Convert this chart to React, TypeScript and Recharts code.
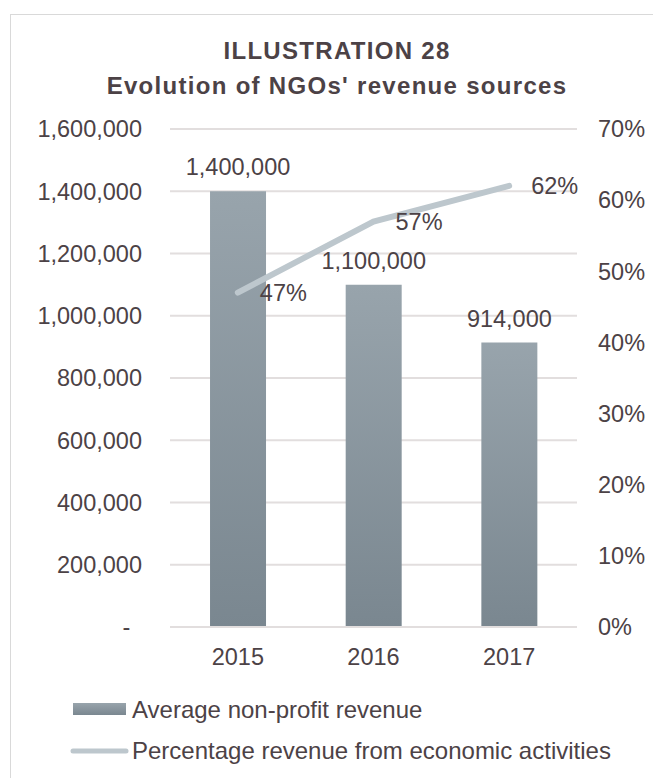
import { ComposedChart, Bar, Line, XAxis, YAxis, CartesianGrid, LabelList } from "recharts";

const years = ["2015", "2016", "2017"];
const avgRevenue = [1400000, 1100000, 914000];
const pctEconomic = [47, 57, 62];
const leftTicks = [0, 200000, 400000, 600000, 800000, 1000000, 1200000, 1400000, 1600000];
const rightTicks = [0, 10, 20, 30, 40, 50, 60, 70];

const data = years.map((y, i) => ({ year: y, revenue: avgRevenue[i], pct: pctEconomic[i] }));

const TEXT = "#4c4246";
const FONT = "'Liberation Sans', Arial, sans-serif";
const FS = 23.5;

// excel accounting style: zero shows as a dash
const fmtNum = (v: number) => (v === 0 ? "-\u2002" : v.toLocaleString("en-US"));

function LegendBox() {
  return (
    <div style={{ position: "absolute", left: 70, top: 689, fontFamily: FONT, fontSize: 24, color: TEXT, lineHeight: "41px" }}>
      <div style={{ display: "flex", alignItems: "center" }}>
        <svg width={62} height={20}>
          <defs>
            <linearGradient id="lgBar" x1="0" y1="0" x2="0" y2="1">
              <stop offset="0%" stopColor="#98a4ac" />
              <stop offset="100%" stopColor="#7a8790" />
            </linearGradient>
          </defs>
          <rect x={3} y={3} width={53} height={12} fill="url(#lgBar)" />
        </svg>
        <span>Average non-profit revenue</span>
      </div>
      <div style={{ display: "flex", alignItems: "center" }}>
        <svg width={62} height={20}>
          <line x1={3} y1={10} x2={56} y2={10} stroke="#bdc7cd" strokeWidth={5} strokeLinecap="round" />
        </svg>
        <span>Percentage revenue from economic activities</span>
      </div>
    </div>
  );
}

export default function App() {
  return (
    <div style={{ position: "fixed", left: 0, top: 0, width: 653, height: 778, overflow: "hidden", background: "#fff" }}>
      <div style={{ position: "absolute", left: 10, top: 14, width: 700, height: 800, border: "1px solid #d9d9d9" }} />
      <div
        style={{
          position: "absolute", left: 0, top: 33, width: 674, textAlign: "center",
          fontFamily: FONT, fontWeight: "bold", fontSize: 24, letterSpacing: 1.3, lineHeight: "35px", color: TEXT,
        }}
      >
        <div>ILLUSTRATION 28</div>
        <div>Evolution of NGOs' revenue sources</div>
      </div>
      <div style={{ position: "absolute", left: 0, top: 0 }}>
        <ComposedChart
          width={653}
          height={778}
          data={data}
          barCategoryGap="29.5%"
          margin={{ top: 129, right: 0, bottom: 121, left: 0 }}
          style={{ fontFamily: FONT }}
        >
          <defs>
            <linearGradient id="barGrad" x1="0" y1="0" x2="0" y2="1">
              <stop offset="0%" stopColor="#98a4ac" />
              <stop offset="100%" stopColor="#7a8790" />
            </linearGradient>
          </defs>
          <CartesianGrid vertical={false} stroke="#e2dede" strokeWidth={2} yAxisId="left" />
          <XAxis
            dataKey="year"
            axisLine={{ stroke: "#e2dede", strokeWidth: 2 }}
            tickLine={false}
            tickMargin={15}
            tick={{ fill: TEXT, fontSize: FS }}
            height={30}
          />
          <YAxis
            yAxisId="left"
            domain={[0, 1600000]}
            ticks={leftTicks}
            tickFormatter={fmtNum}
            axisLine={false}
            tickLine={false}
            width={170}
            tickMargin={22}
            tick={{ fill: TEXT, fontSize: FS }}
            interval={0}
          />
          <YAxis
            yAxisId="right"
            orientation="right"
            domain={[0, 70]}
            ticks={rightTicks}
            tickFormatter={(v: number) => `${v}%`}
            axisLine={false}
            tickLine={false}
            width={76}
            tickMargin={15}
            tick={{ fill: TEXT, fontSize: FS }}
            interval={0}
          />
          <Bar yAxisId="left" dataKey="revenue" fill="url(#barGrad)" isAnimationActive={false}>
            <LabelList
              dataKey="revenue"
              position="top"
              offset={16}
              formatter={(v: number) => v.toLocaleString("en-US")}
              style={{ fill: TEXT, fontSize: FS }}
            />
          </Bar>
          <Line
            yAxisId="right"
            dataKey="pct"
            stroke="#bdc7cd"
            strokeWidth={6}
            strokeLinecap="round"
            dot={false}
            activeDot={false}
            isAnimationActive={false}
          >
            <LabelList
              dataKey="pct"
              position="right"
              offset={22}
              formatter={(v: number) => `${v}%`}
              style={{ fill: TEXT, fontSize: FS }}
            />
          </Line>
        </ComposedChart>
      </div>
      <LegendBox />
    </div>
  );
}
